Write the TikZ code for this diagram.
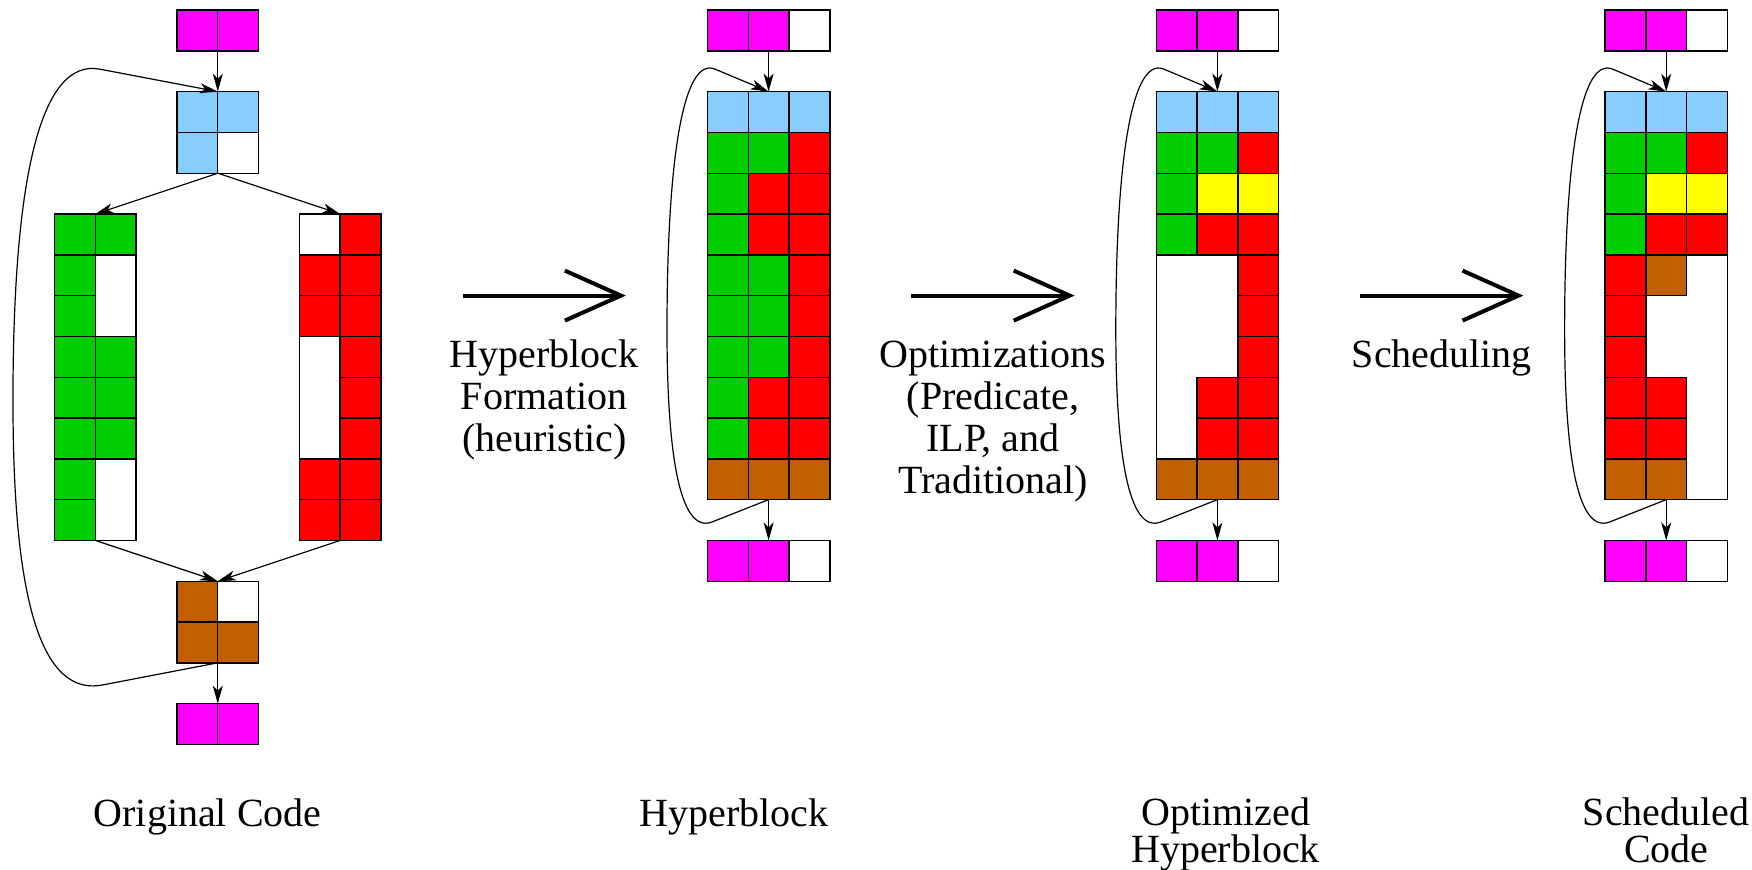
\documentclass[tikz,border=0pt]{standalone}
\usepackage{fontspec}
\setmainfont{Liberation Serif}
\usetikzlibrary{arrows.meta}

\definecolor{hbmag}{HTML}{FF00FF}
\definecolor{hbblue}{HTML}{87CEFF}
\definecolor{hbgreen}{HTML}{00CE00}
\definecolor{hbred}{HTML}{FF0000}
\definecolor{hbbrown}{HTML}{C06000}
\definecolor{hbyellow}{HTML}{FFFF00}

\newcommand{\cellsz}{20.4pt}

\begin{document}
\begin{tikzpicture}[x=\cellsz,y=-\cellsz,line width=0.7pt,
    blk/.style={draw,fill=white,inner sep=0pt,outer sep=0pt,anchor=north west},
    mg/.style={draw,fill=hbmag},
    lb/.style={draw,fill=hbblue},
    gn/.style={draw,fill=hbgreen},
    rd/.style={draw,fill=hbred},
    bn/.style={draw,fill=hbbrown},
    yw/.style={draw,fill=hbyellow},
    wt/.style={},
    flow/.style={line width=0.6pt,-{Stealth[length=9pt,width=5pt,inset=2.5pt]}},
    pass/.style={line width=2pt,-{Straight Barb[length=28pt,width=25pt]}},
    lbl/.style={font=\fontsize{20}{21}\selectfont,align=center,anchor=base,inner sep=0pt},
    captxt/.style={font=\fontsize{20}{18.2}\selectfont,align=center,anchor=base,inner sep=0pt}]
    \useasboundingbox (-4.338,-0.245) rectangle (38.603,21.054);

    % original code
    \node[blk,minimum width=2*\cellsz,minimum height=\cellsz] (otop) at (0,0) {};
    \node[blk,minimum width=2*\cellsz,minimum height=2*\cellsz] (oblu) at (0,2) {};
    \node[blk,minimum width=2*\cellsz,minimum height=8*\cellsz] (ogrn) at (-3,5) {};
    \node[blk,minimum width=2*\cellsz,minimum height=8*\cellsz] (ored) at (3,5) {};
    \node[blk,minimum width=2*\cellsz,minimum height=2*\cellsz] (obrn) at (0,14) {};
    \node[blk,minimum width=2*\cellsz,minimum height=\cellsz] (obot) at (0,17) {};

    \foreach \r/\ka/\kb in {0/mg/mg,2/lb/lb,3/lb/wt,14/bn/wt,15/bn/bn,17/mg/mg} {
        \path[\ka] (0,\r) rectangle ++(1,1);
        \path[\kb] (1,\r) rectangle ++(1,1);
    }
    \foreach \r/\ka/\kb in {5/gn/gn,6/gn/wt,7/gn/wt,8/gn/gn,9/gn/gn,10/gn/gn,11/gn/wt,12/gn/wt} {
        \path[\ka] (-3,\r) rectangle ++(1,1);
        \path[\kb] (-2,\r) rectangle ++(1,1);
    }
    \foreach \r/\ka/\kb in {5/wt/rd,6/rd/rd,7/rd/rd,8/wt/rd,9/wt/rd,10/wt/rd,11/rd/rd,12/rd/rd} {
        \path[\ka] (3,\r) rectangle ++(1,1);
        \path[\kb] (4,\r) rectangle ++(1,1);
    }

    \draw[flow] (otop.south) -- (oblu.north);
    \draw[flow] (oblu.south) -- (ogrn.north);
    \draw[flow] (oblu.south) -- (ored.north);
    \draw[flow] (ogrn.south) -- (obrn.north);
    \draw[flow] (ored.south) -- (obrn.north);
    \draw[flow] (obrn.south) -- (obot.north);
    \draw[flow] (obrn.south) -- (-1.81,16.54)
        .. controls (-3.6,16.9) and (-4.02,13.48) .. (-4.02,9.56)
        .. controls (-4.02,4.17) and (-3.36,1.17) .. (-1.89,1.45) -- (oblu.north);

    % hyperblocks
    \foreach \n/\x in {hyp/13,opt/24,sch/35} {
        \node[blk,minimum width=3*\cellsz,minimum height=\cellsz] (\n-top) at (\x,0) {};
        \node[blk,minimum width=3*\cellsz,minimum height=10*\cellsz] (\n-blk) at (\x,2) {};
        \node[blk,minimum width=3*\cellsz,minimum height=\cellsz] (\n-bot) at (\x,13) {};
        \foreach \r in {0,13} {
            \path[mg] (\x,\r) rectangle ++(1,1);
            \path[mg] (\x+1,\r) rectangle ++(1,1);
        }
    }

    \foreach \r/\ka/\kb/\kc in {2/lb/lb/lb,3/gn/gn/rd,4/gn/rd/rd,5/gn/rd/rd,6/gn/gn/rd,
                                7/gn/gn/rd,8/gn/gn/rd,9/gn/rd/rd,10/gn/rd/rd,11/bn/bn/bn} {
        \path[\ka] (13,\r) rectangle ++(1,1);
        \path[\kb] (14,\r) rectangle ++(1,1);
        \path[\kc] (15,\r) rectangle ++(1,1);
    }
    \foreach \r/\ka/\kb/\kc in {2/lb/lb/lb,3/gn/gn/rd,4/gn/yw/yw,5/gn/rd/rd,6/wt/wt/rd,
                                7/wt/wt/rd,8/wt/wt/rd,9/wt/rd/rd,10/wt/rd/rd,11/bn/bn/bn} {
        \path[\ka] (24,\r) rectangle ++(1,1);
        \path[\kb] (25,\r) rectangle ++(1,1);
        \path[\kc] (26,\r) rectangle ++(1,1);
    }
    \foreach \r/\ka/\kb/\kc in {2/lb/lb/lb,3/gn/gn/rd,4/gn/yw/yw,5/gn/rd/rd,6/rd/bn/wt,
                                7/rd/wt/wt,8/rd/wt/wt,9/rd/rd/wt,10/rd/rd/wt,11/bn/bn/wt} {
        \path[\ka] (35,\r) rectangle ++(1,1);
        \path[\kb] (36,\r) rectangle ++(1,1);
        \path[\kc] (37,\r) rectangle ++(1,1);
    }

    \foreach \n/\x in {hyp/13,opt/24,sch/35} {
        \draw[flow] (\n-top.south) -- (\n-blk.north);
        \draw[flow] (\n-blk.south) -- (\n-bot.north);
        \draw[flow] (\n-blk.south) -- (\x+0.11,12.55)
            .. controls (\x-0.7,12.85) and (\x-0.99,10.78) .. (\x-0.99,7.84)
            .. controls (\x-0.99,3.68) and (\x-0.6,1.12) .. (\x+0.19,1.45) -- (\n-blk.north);
    }

    % passes
    \coordinate (form-l) at (7,7);
    \coordinate (form-r) at (11,7);
    \coordinate (optz-l) at (18,7);
    \coordinate (optz-r) at (22,7);
    \coordinate (schd-l) at (29,7);
    \coordinate (schd-r) at (33,7);
    \draw[pass] (form-l) -- (form-r);
    \draw[pass] (optz-l) -- (optz-r);
    \draw[pass] (schd-l) -- (schd-r);

    % base anchor sits on the last line
    \node[lbl] (formtxt) at (9,10.81) {Hyperblock\\Formation\\(heuristic)};
    \node[lbl] (optztxt) at (20,11.84) {Optimizations\\(Predicate,\\ILP, and\\Traditional)};
    \node[lbl] (schdtxt) at (31,8.75) {Scheduling};

    \node[captxt] (ocap) at (0.75,20) {Original Code};
    \node[captxt] (hcap) at (13.65,20) {Hyperblock};
    \node[captxt] (pcap) at (25.7,20.89) {Optimized\\Hyperblock};
    \node[captxt] (scap) at (36.5,20.89) {Scheduled\\Code};
\end{tikzpicture}
\end{document}
